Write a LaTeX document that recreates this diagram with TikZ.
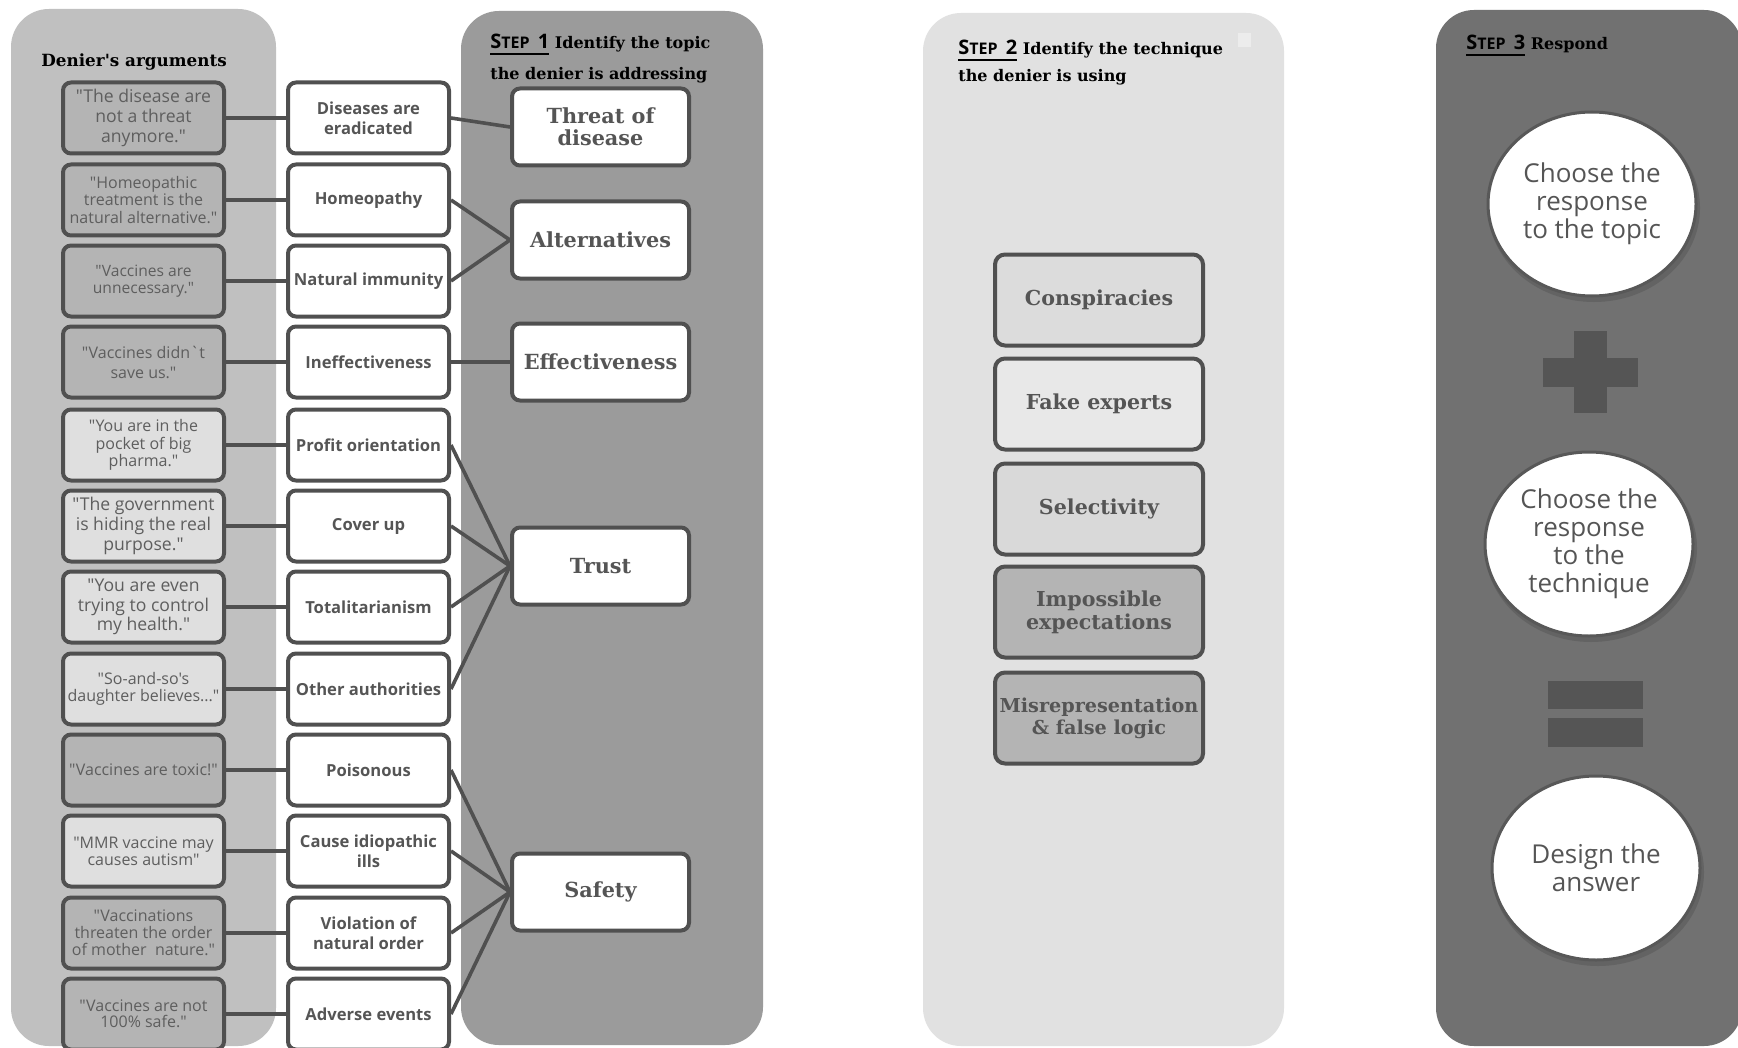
\documentclass[tikz,border=0pt]{standalone}
\usepackage{fontspec}
\setmainfont{DejaVu Serif}[Ligatures=TeXOff]
\setsansfont{Open Sans}[Ligatures=TeXOff]
\usetikzlibrary{shapes.geometric}
\definecolor{pA}{HTML}{C0C0C0}
\definecolor{pB}{HTML}{9B9B9B}
\definecolor{pC}{HTML}{E1E1E1}
\definecolor{pD}{HTML}{717171}
\definecolor{edge}{HTML}{505050}
\definecolor{txt}{HTML}{555555}
\definecolor{argtxt}{HTML}{5E5E5E}
\definecolor{dk}{HTML}{B4B4B4}
\definecolor{lt}{HTML}{DFDFDF}
\definecolor{kA}{HTML}{DCDCDC}
\definecolor{kB}{HTML}{E8E8E8}
\definecolor{kC}{HTML}{D9D9D9}
\definecolor{sq}{HTML}{ECECEC}
\definecolor{circedge}{HTML}{585858}
\definecolor{shd}{HTML}{636363}
\definecolor{sym}{HTML}{555555}
\newcommand\fsz[2]{\fontsize{#1}{#2}\selectfont}
\newcommand\qq{\char34\relax}
\newcommand\ap{\char39\relax}
\newcommand\gr{\char96\relax}
\newcommand\steplabel[1]{\setbox0\hbox{\sffamily\bfseries\fsz{10}{10}S\fsz{8}{10}TEP\fsz{10}{10}\kern1.5pt\ #1}\rlap{\rule[-3pt]{\wd0}{1pt}}\box0\relax\ }
\begin{document}
\begin{tikzpicture}[x=0.5pt,y=-0.5pt,
 argbox/.style={draw=edge,line width=2pt,rounded corners=4pt,minimum width=80.5pt,minimum height=35.5pt,inner sep=0pt,align=center,text=argtxt,font=\sffamily\fsz{8}{9}},
 midbox/.style={argbox,fill=white,text=txt,font=\sffamily\bfseries\fsz{8.3}{9.8}},
 topicbox/.style={draw=edge,line width=2pt,rounded corners=4pt,fill=white,minimum width=88.5pt,minimum height=38.5pt,inner sep=0pt,align=center,text=txt,font=\bfseries\fsz{10.4}{11.2}},
 techbox/.style={draw=edge,line width=2pt,rounded corners=5pt,minimum width=104pt,minimum height=45.5pt,inner sep=0pt,align=center,text=txt,font=\bfseries\fsz{10.3}{11.5}},
 resp/.style={ellipse,draw=circedge,line width=1.5pt,fill=white,minimum width=104pt,minimum height=92pt,inner sep=0pt,align=center,text=txt,font=\sffamily\fsz{13}{14}},
 conn/.style={draw=edge,line width=1.8pt},
 heading/.style={anchor=base west,inner sep=0pt,font=\bfseries\fsz{8}{10}},
]
\useasboundingbox (0,0) rectangle (1738,1048);
\fill[white] (0,0) rectangle (1738,1048);
% panels
\fill[pA,rounded corners=19pt] (11,9) rectangle (276,1046);
\fill[pB,rounded corners=19pt] (461,11) rectangle (763,1045);
\fill[pC,rounded corners=19pt] (923,13) rectangle (1284,1046);
\fill[pD,rounded corners=19pt] (1436,10) rectangle (1742,1046);
\fill[sq] (1238,33) rectangle (1251,47);
% headings
\node[heading,font=\bfseries\fsz{8.4}{10}] (hden) at (41,67) {Denier\ap s arguments};
\node[heading] (h1a) at (490,49) {\steplabel{1}Identify the topic};
\node[heading] (h1b) at (490,80) {the denier is addressing};
\node[heading] (h2a) at (958,55) {\steplabel{2}Identify the technique};
\node[heading] (h2b) at (958,82) {the denier is using};
\node[heading] (h3a) at (1466,50) {\steplabel{3}Respond};
% arguments
\node[argbox,fill=dk,font=\sffamily\fsz{8.8}{10}] (a1) at (143.5,118) {\qq The disease are\\not a threat\\anymore.\qq};
\node[argbox,fill=dk,font=\sffamily\fsz{8}{8.8}] (a2) at (143.5,200) {\qq Homeopathic\\treatment is the\\natural alternative.\qq};
\node[argbox,fill=dk,font=\sffamily\fsz{7.8}{8.4}] (a3) at (143.5,281) {\qq Vaccines are\\unnecessary.\qq};
\node[argbox,fill=dk,font=\sffamily\fsz{8}{10}] (a4) at (143.5,362) {\qq Vaccines didn\gr t\\save us.\qq};
\node[argbox,fill=lt,font=\sffamily\fsz{8}{8.8}] (a5) at (143.5,445) {\qq You are in the\\pocket of big\\pharma.\qq};
\node[argbox,fill=lt,font=\sffamily\fsz{8.8}{10}] (a6) at (143.5,526) {\qq The government\\is hiding the real\\purpose.\qq};
\node[argbox,fill=lt,font=\sffamily\fsz{8.8}{9.8}] (a7) at (143.5,607) {\qq You are even\\trying to control\\my health.\qq};
\node[argbox,fill=lt,font=\sffamily\fsz{8}{8.6}] (a8) at (143.5,689) {\qq So-and-so\ap s\\daughter believes...\qq};
\node[argbox,fill=dk] (a9) at (143.5,770) {\qq Vaccines are toxic!\qq};
\node[argbox,fill=lt,font=\sffamily\fsz{8}{8.4}] (a10) at (143.5,851) {\qq MMR vaccine may\\causes autism\qq};
\node[argbox,fill=dk,font=\sffamily\fsz{8}{8.4}] (a11) at (143.5,933) {\qq Vaccinations\\threaten the order\\of mother\ \ nature.\qq};
\node[argbox,fill=dk,font=\sffamily\fsz{8}{8}] (a12) at (143.5,1014) {\qq Vaccines are not\\100\% safe.\qq};
% middle column
\node[midbox] (m1) at (368.5,118) {Diseases are\\eradicated};
\node[midbox] (m2) at (368.5,200) {Homeopathy};
\node[midbox] (m3) at (368.5,281) {Natural immunity};
\node[midbox] (m4) at (368.5,362) {Ineffectiveness};
\node[midbox] (m5) at (368.5,445) {Profit orientation};
\node[midbox] (m6) at (368.5,526) {Cover up};
\node[midbox] (m7) at (368.5,607) {Totalitarianism};
\node[midbox] (m8) at (368.5,689) {Other authorities};
\node[midbox] (m9) at (368.5,770) {Poisonous};
\node[midbox] (m10) at (368.5,851) {Cause idiopathic\\ills};
\node[midbox] (m11) at (368.5,933) {Violation of\\natural order};
\node[midbox] (m12) at (368.5,1014) {Adverse events};
% topics
\node[topicbox] (t1) at (600.5,127) {Threat of\\disease};
\node[topicbox] (t2) at (600.5,240) {Alternatives};
\node[topicbox] (t3) at (600.5,362) {Effectiveness};
\node[topicbox] (t4) at (600.5,566) {Trust};
\node[topicbox] (t5) at (600.5,892) {Safety};
% connectors
\foreach \i in {1,...,12} {\draw[conn] (a\i.east) -- (m\i.west);}
\draw[conn] (m1.east) -- (t1.west);
\draw[conn] (m2.east) -- (t2.west);
\draw[conn] (m3.east) -- (t2.west);
\draw[conn] (m4.east) -- (t3.west);
\foreach \i in {5,6,7,8} {\draw[conn] (m\i.east) -- (t4.west);}
\foreach \i in {9,10,11,12} {\draw[conn] (m\i.east) -- (t5.west);}
% techniques
\node[techbox,fill=kA] (k1) at (1099,300) {Conspiracies};
\node[techbox,fill=kB] (k2) at (1099,404) {Fake experts};
\node[techbox,fill=kC] (k3) at (1099,509) {Selectivity};
\node[techbox,fill=dk] (k4) at (1099,612) {Impossible\\expectations};
\node[techbox,fill=dk,font=\bfseries\fsz{9.6}{11}] (k5) at (1099,718) {Misrepresentation\\\& false logic};
% responses
\fill[shd] (1594,208) ellipse [x radius=53pt,y radius=47pt];
\fill[shd] (1591,548) ellipse [x radius=53pt,y radius=47pt];
\fill[shd] (1598,872) ellipse [x radius=53pt,y radius=47pt];
\node[resp] (r1) at (1592,204) {Choose the\\response\\to the topic};
\node[resp] (r2) at (1589,544) {Choose the\\response\\to the\\technique};
\node[resp] (r3) at (1596,868) {Design the\\answer};
% plus and equals
\fill[sym] (1543,358) rectangle (1638,387);
\fill[sym] (1574,331) rectangle (1607,413);
\fill[sym] (1548,681) rectangle (1643,709);
\fill[sym] (1548,718) rectangle (1643,747);
\end{tikzpicture}
\end{document}
